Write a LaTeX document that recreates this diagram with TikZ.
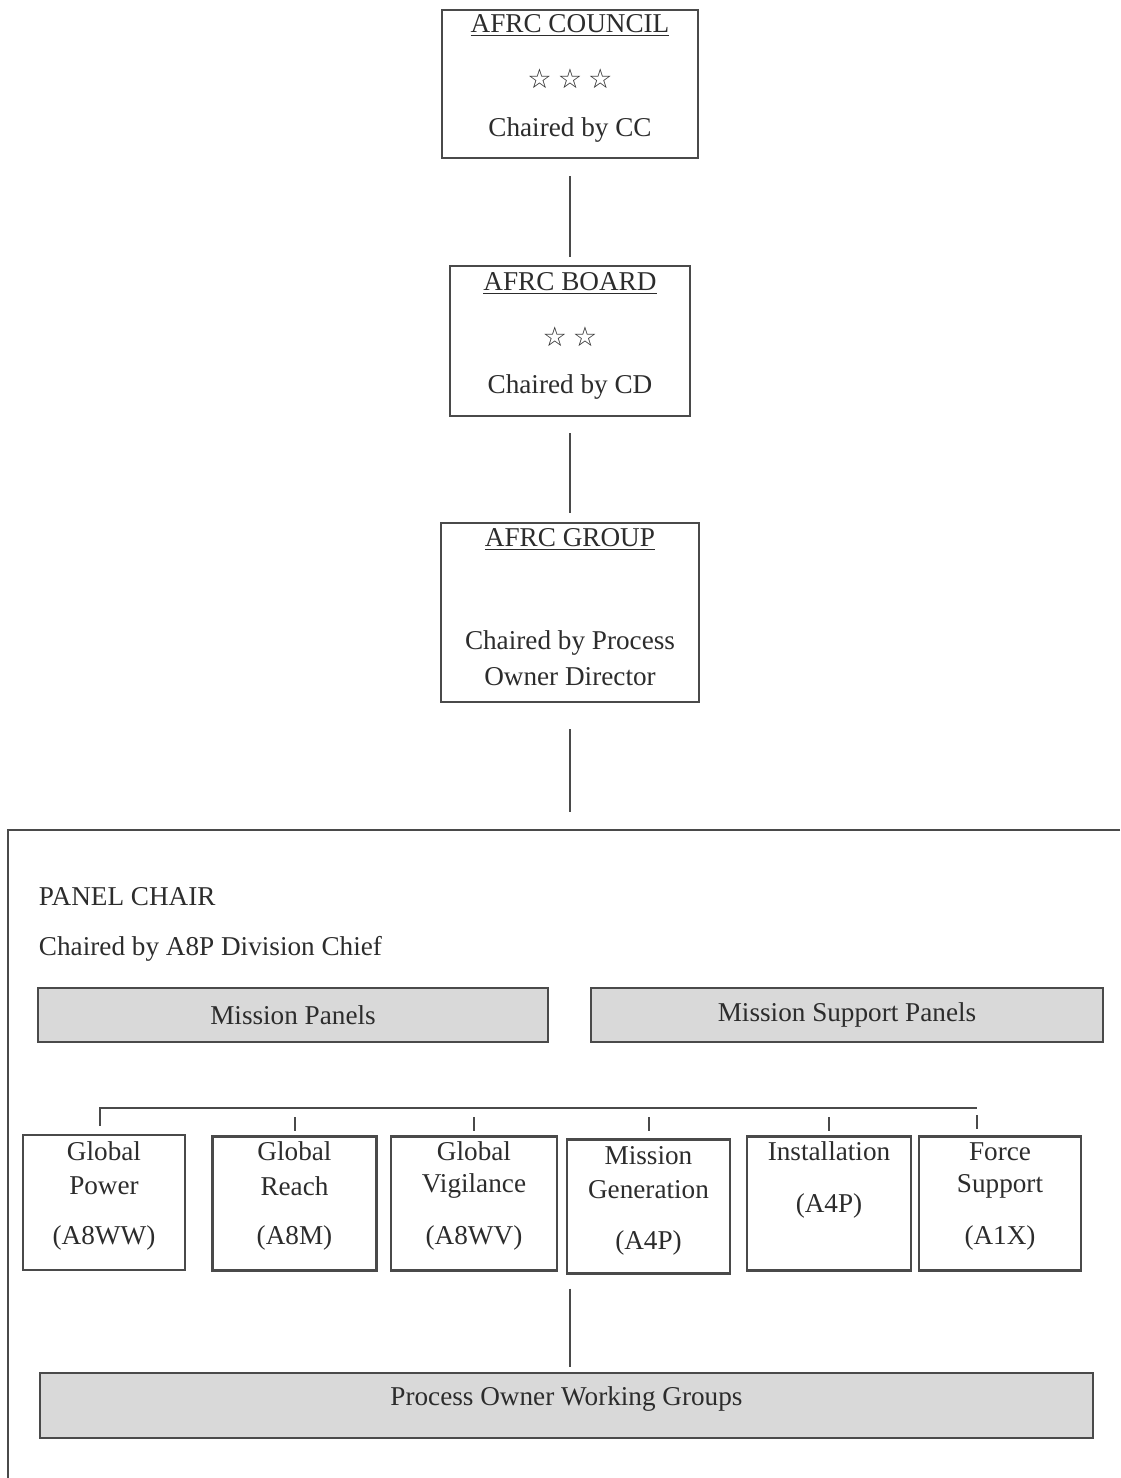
\documentclass[tikz,border=0pt]{standalone}
\usepackage{fontspec}
\setmainfont{Liberation Serif}
\newfontfamily\starfont{DejaVu Sans}
\usepackage{xcolor}
\usetikzlibrary{calc,positioning}

\definecolor{inkgray}{HTML}{2C2C2C}
\definecolor{linegray}{HTML}{4A4A4A}
\definecolor{panelfill}{HTML}{D9D9D9}

\begin{document}
\begin{tikzpicture}[x=0.5pt,y=-0.5pt,line width=1pt,
  every node/.style={font=\fontsize{13.6}{15}\selectfont,text=inkgray},
  levelbox/.style={draw=linegray,line width=1.1pt,inner sep=0pt},
  areabox/.style={draw=linegray,line width=1.1pt,inner sep=0pt,minimum width=82pt,minimum height=67pt},
  panelbox/.style={draw=linegray,line width=1.1pt,fill=panelfill,inner sep=0pt,minimum height=27pt},
  link/.style={draw=linegray,line width=1pt}]
  \useasboundingbox (0,0) rectangle (1120,1478);

  % --- AFRC Council ---
  \node[levelbox,minimum width=128pt,minimum height=74pt] (council) at (570,84) {};
  \node (councilT) at ($(council.north)+(0,17)$) {\underline{AFRC COUNCIL}};
  \node (councilS) at ($(council.north)+(0,70)$) {\starfont\bfseries ☆\hspace{3pt}☆\hspace{3pt}☆};
  \node (councilC) at ($(council.north)+(0,121)$) {Chaired by CC};

  % --- AFRC Board ---
  \node[levelbox,minimum width=120pt,minimum height=75pt] (board) at (570,341) {};
  \node (boardT) at ($(board.north)+(0,19)$) {\underline{AFRC BOARD}};
  \node (boardS) at ($(board.north)+(0,72)$) {\starfont\bfseries ☆\hspace{3pt}☆};
  \node (boardC) at ($(board.north)+(0,122)$) {Chaired by CD};

  % --- AFRC Group ---
  \node[levelbox,minimum width=129pt,minimum height=89.5pt] (group) at (570,612.5) {};
  \node (groupT) at ($(group.north)+(0,18)$) {\underline{AFRC GROUP}};
  \node (groupC) at ($(group.north)+(0,121)$) {Chaired by Process};
  \node (groupD) at ($(group.north)+(0,155)$) {Owner Director};

  % chain of command
  \draw[link,shorten <=8.5pt,shorten >=4pt] (council) -- (board);
  \draw[link,shorten <=8pt,shorten >=4.5pt] (board) -- (group);
  \coordinate (pnltop) at (group.south |- 0,830);
  \draw[link,shorten <=13pt,shorten >=9pt] (group) -- (pnltop);

  % --- Panel frame ---
  \draw[link] (1120,830) -- (8,830) -- (8,1478);
  \node[anchor=west,inner sep=0pt] (chair) at (38,897) {PANEL CHAIR};
  \node[anchor=west,inner sep=0pt] (chairby) at (38,949) {Chaired by A8P Division Chief};

  \node[panelbox,minimum width=255pt] (mpan) at (293,1015) {Mission Panels};
  \node[panelbox,minimum width=256pt] (mspan) at (847,1015) {Mission Support Panels};

  % --- Mission areas ---
  \node[areabox,minimum width=81pt,minimum height=67.5pt] (gpow) at (104,1202.5) {};
  \node (gpowA) at ($(gpow.north)+(0,17)$) {Global};
  \node (gpowB) at ($(gpow.north)+(0,52)$) {Power};
  \node (gpowC) at ($(gpow.north)+(0,104)$) {(A8WW)};

  \node[areabox] (greach) at (294.5,1203.5) {};
  \node (greachA) at ($(greach.north)+(0,16)$) {Global};
  \node (greachB) at ($(greach.north)+(0,51)$) {Reach};
  \node (greachC) at ($(greach.north)+(0,103)$) {(A8M)};

  \node[areabox,minimum width=83pt] (gvig) at (474,1203.5) {};
  \node (gvigA) at ($(gvig.north)+(0,16)$) {Global};
  \node (gvigB) at ($(gvig.north)+(0,51)$) {Vigilance};
  \node (gvigC) at ($(gvig.north)+(0,103)$) {(A8WV)};

  \node[areabox,minimum width=81.5pt] (mgen) at (648.5,1206.5) {};
  \node (mgenA) at ($(mgen.north)+(0,17)$) {Mission};
  \node (mgenB) at ($(mgen.north)+(0,51)$) {Generation};
  \node (mgenC) at ($(mgen.north)+(0,105)$) {(A4P)};

  \node[areabox] (inst) at (829,1203.5) {};
  \node (instA) at ($(inst.north)+(0,16)$) {Installation};
  \node (instB) at ($(inst.north)+(0,71)$) {(A4P)};

  \node[areabox,minimum width=81pt] (fsup) at (1000,1203.5) {};
  \node (fsupA) at ($(fsup.north)+(0,16)$) {Force};
  \node (fsupB) at ($(fsup.north)+(0,51)$) {Support};
  \node (fsupC) at ($(fsup.north)+(0,103)$) {(A1X)};

  % bus over the areas
  \draw[link] ($(gpow.north)+(-4,-8)$) |- ($(fsup.north)+(-23,-27)$);
  \foreach \b in {greach,gvig,mgen,inst}
    \draw[link] (\b.north |- 0,1117) -- (\b.north |- 0,1131);
  \draw[link] ($(fsup.north)+(-23,-20)$) -- ++(0,14);

  % --- Working groups ---
  \node[panelbox,minimum width=526.5pt,minimum height=32.5pt,text depth=9pt] (powg) at (566.5,1405.5) {Process Owner Working Groups};
  \draw[link,shorten <=7pt,shorten >=2.5pt] (mgen.south -| group.south) -- (powg.north -| group.south);
\end{tikzpicture}
\end{document}
